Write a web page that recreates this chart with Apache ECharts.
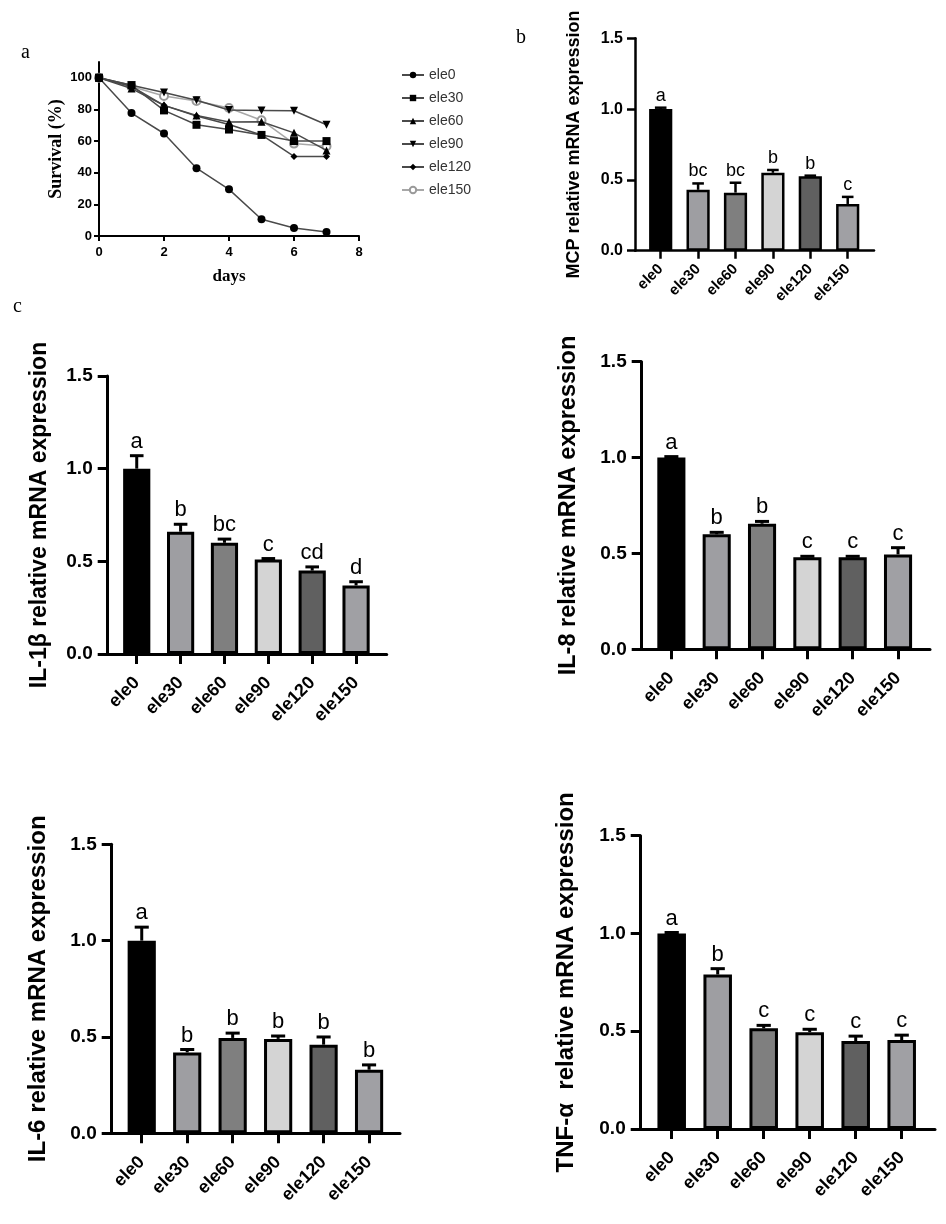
<!DOCTYPE html>
<html><head><meta charset="utf-8">
<script src="https://cdn.jsdelivr.net/npm/echarts@6/dist/echarts.min.js"></script>
<style>html,body{margin:0;padding:0;background:#fff}#c{width:946px;height:1224px}</style>
</head><body><div id="c"></div>
<script>
// ---------- data ----------
const groups = ['ele0', 'ele30', 'ele60', 'ele90', 'ele120', 'ele150'];
const days = [0, 1, 2, 3, 4, 5, 6, 7];
const survEle0   = [100, 77.7, 64.8, 42.9, 29.5, 10.6, 5.1, 2.5];
const survEle30  = [100, 95.3, 79.4, 70.3, 67.3, 63.9, 60.0, 60.0];
const survEle60  = [100, 93.2, 82.6, 76.2, 72.0, 72.2, 65.2, 54.1];
const survEle90  = [100, 95.3, 90.7, 85.8, 79.6, 79.4, 79.2, 70.3];
const survEle120 = [100, 94.5, 82.6, 75.8, 70.5, 63.9, 50.3, 50.3];
const survEle150 = [100, 94.5, 88.5, 85.4, 80.9, 73.2, 58.4, 56.7];
const survTicks = [0, 20, 40, 60, 80, 100];

const mcpMean = [1.0, 0.43, 0.41, 0.55, 0.525, 0.33];
const mcpErr  = [0.01, 0.045, 0.07, 0.02, 0.005, 0.05];
const mcpLetters = ['a', 'bc', 'bc', 'b', 'b', 'c'];

const il1bMean = [1.0, 0.66, 0.60, 0.51, 0.45, 0.37];
const il1bErr  = [0.07, 0.04, 0.02, 0.005, 0.02, 0.02];
const il1bLetters = ['a', 'b', 'bc', 'c', 'cd', 'd'];

const il8Mean = [1.0, 0.60, 0.655, 0.48, 0.48, 0.495];
const il8Err  = [0.005, 0.01, 0.012, 0.005, 0.005, 0.035];
const il8Letters = ['a', 'b', 'b', 'c', 'c', 'c'];

const il6Mean = [1.0, 0.42, 0.495, 0.49, 0.46, 0.33];
const il6Err  = [0.07, 0.015, 0.025, 0.015, 0.04, 0.025];
const il6Letters = ['a', 'b', 'b', 'b', 'b', 'b'];

const tnfMean = [1.0, 0.79, 0.515, 0.495, 0.45, 0.455];
const tnfErr  = [0.005, 0.03, 0.015, 0.015, 0.025, 0.025];
const tnfLetters = ['a', 'b', 'c', 'c', 'c', 'c'];

const exprMax = 1.5;
const exprInterval = 0.5;
const barColors = ['#000000', '#9e9ea2', '#7f7f7f', '#d4d4d4', '#606060', '#a0a0a4'];

// ---------- styling ----------
const SANS = '"Liberation Sans", Arial, sans-serif';
const SERIF = '"Liberation Serif", "Times New Roman", serif';

const option = {
  animation: false,
  backgroundColor: '#fff',
  grid: [], xAxis: [], yAxis: [], series: [],
  graphic: [
    { type: 'text', x: 21, y: 53, style: { text: 'a', font: '20px ' + SERIF, fill: '#000', verticalAlign: 'middle' } },
    { type: 'text', x: 516, y: 38, style: { text: 'b', font: '20px ' + SERIF, fill: '#000', verticalAlign: 'middle' } },
    { type: 'text', x: 13, y: 307, style: { text: 'c', font: '20px ' + SERIF, fill: '#000', verticalAlign: 'middle' } }
  ]
};

// ---------- panel a: survival ----------
option.grid.push({ left: 99, top: 62, width: 260, height: 174 });
option.xAxis.push({
  type: 'value', gridIndex: 0, min: 0, max: 8, interval: 2,
  axisLine: { show: true, lineStyle: { color: '#000', width: 2 } },
  axisTick: { show: true, length: 5, lineStyle: { color: '#000', width: 2 } },
  axisLabel: { fontFamily: SANS, fontWeight: 'bold', fontSize: 13, color: '#000', margin: 10 },
  splitLine: { show: false },
  name: 'days', nameLocation: 'middle', nameGap: 32,
  nameTextStyle: { fontFamily: SERIF, fontWeight: 'bold', fontSize: 17, color: '#000' }
});
option.yAxis.push({
  type: 'value', gridIndex: 0, min: 0, max: 110,
  axisLine: { show: true, lineStyle: { color: '#000', width: 2 } },
  axisTick: { show: true, length: 5, customValues: survTicks, lineStyle: { color: '#000', width: 2 } },
  axisLabel: { customValues: survTicks, fontFamily: SANS, fontWeight: 'bold', fontSize: 13, color: '#000', margin: 7 },
  splitLine: { show: false },
  name: 'Survival (%)', nameLocation: 'middle', nameRotate: 90, nameGap: 34,
  nameTextStyle: { fontFamily: SERIF, fontWeight: 'bold', fontSize: 18, color: '#000' }
});
const survDefs = [
  { name: 'ele0', data: survEle0, symbol: 'circle', size: 8, rot: 0 },
  { name: 'ele30', data: survEle30, symbol: 'rect', size: 8, rot: 0 },
  { name: 'ele60', data: survEle60, symbol: 'triangle', size: 8, rot: 0 },
  { name: 'ele90', data: survEle90, symbol: 'triangle', size: 8, rot: 180 },
  { name: 'ele120', data: survEle120, symbol: 'diamond', size: 7, rot: 0 },
  { name: 'ele150', data: survEle150, symbol: 'emptyCircle', size: 8, rot: 0 }
];
survDefs.forEach(function (s) {
  const gray = s.name === 'ele150';
  option.series.push({
    type: 'line', name: s.name, xAxisIndex: 0, yAxisIndex: 0,
    data: days.map(function (d, i) { return [d, s.data[i]]; }),
    symbol: s.symbol, symbolSize: s.size, symbolRotate: s.rot,
    lineStyle: { color: gray ? '#a8a8a8' : '#4a4a4a', width: 1.5 },
    itemStyle: gray ? { color: '#9a9a9a', borderWidth: 1.5 } : { color: '#000' },
    z: gray ? 2 : 3
  });
});
option.legend = {
  data: groups, orient: 'vertical', left: 396, top: 63,
  itemWidth: 22, itemHeight: 8, itemGap: 9,
  textStyle: { fontFamily: SANS, fontSize: 14, color: '#333' }
};

// ---------- bar panels ----------
function makeRender(letters, fs, lw) {
  return function (params, api) {
    const i = api.value(0), v = api.value(1), e = api.value(2);
    const base = api.coord([i, v]);
    const top = api.coord([i, v + e]);
    const bw = api.size([1, 0])[0] * 0.62;
    const half = bw * 0.25;
    return {
      type: 'group', children: [
        { type: 'line', shape: { x1: base[0], y1: base[1], x2: top[0], y2: top[1] }, style: { stroke: '#000', lineWidth: lw } },
        { type: 'line', shape: { x1: top[0] - half, y1: top[1], x2: top[0] + half, y2: top[1] }, style: { stroke: '#000', lineWidth: lw } },
        { type: 'text', x: top[0], y: top[1] - 3, style: { text: letters[params.dataIndex], align: 'center', verticalAlign: 'bottom', font: fs + 'px ' + SANS, fill: '#000' } }
      ]
    };
  };
}

function addBarPanel(p) {
  const gi = option.grid.length;
  const h = p.bottom - p.top;
  option.grid.push({ left: p.axisX, top: p.top, width: p.axisEnd - p.axisX, height: h });
  option.grid.push({ left: p.barLeft, top: p.top, width: p.barRight - p.barLeft, height: h });
  const xa = option.xAxis.length;
  option.xAxis.push({
    type: 'value', gridIndex: gi, min: 0, max: 1,
    axisLine: { show: true, lineStyle: { color: '#000', width: p.lw } },
    axisTick: { show: false }, axisLabel: { show: false }, splitLine: { show: false }
  });
  option.xAxis.push({
    type: 'category', gridIndex: gi + 1, data: groups,
    axisLine: { show: false },
    axisTick: { show: true, alignWithLabel: true, length: p.tick, lineStyle: { color: '#000', width: p.lw } },
    axisLabel: { rotate: 45, interval: 0, fontFamily: SANS, fontWeight: 'bold', fontSize: p.xfs, color: '#000', margin: p.xmargin }
  });
  const ya = option.yAxis.length;
  option.yAxis.push({
    type: 'value', gridIndex: gi, min: 0, max: exprMax, interval: exprInterval,
    axisLine: { show: true, lineStyle: { color: '#000', width: p.lw } },
    axisTick: { show: true, length: p.tick, lineStyle: { color: '#000', width: p.lw } },
    axisLabel: { formatter: function (v) { return v.toFixed(1); }, fontFamily: SANS, fontWeight: 'bold', fontSize: p.yfs, color: '#000', margin: p.ymargin },
    splitLine: { show: false },
    name: p.title, nameLocation: 'middle', nameRotate: 90, nameGap: p.nameGap,
    nameTextStyle: { fontFamily: SANS, fontWeight: 'bold', fontSize: p.tfs, color: '#000' }
  });
  option.yAxis.push({ type: 'value', gridIndex: gi + 1, min: 0, max: exprMax, show: false });
  option.series.push({
    type: 'bar', xAxisIndex: xa + 1, yAxisIndex: ya + 1, barWidth: '62%',
    data: p.mean.map(function (v, i) { return { value: v, itemStyle: { color: barColors[i] } }; }),
    itemStyle: { borderColor: '#000', borderWidth: p.lw }
  });
  option.series.push({
    type: 'custom', xAxisIndex: xa + 1, yAxisIndex: ya + 1, z: 5,
    data: p.mean.map(function (v, i) { return [i, v, p.err[i]]; }),
    renderItem: makeRender(p.letters, p.lfs, p.lw)
  });
}

addBarPanel({ title: 'MCP relative mRNA expression', mean: mcpMean, err: mcpErr, letters: mcpLetters,
  axisX: 635, axisEnd: 874, top: 38.3, bottom: 250.7, barLeft: 642, barRight: 866.4,
  lw: 2.5, tick: 8, yfs: 16, xfs: 15, tfs: 18, lfs: 18, nameGap: 52, ymargin: 12, xmargin: 16 });
addBarPanel({ title: 'IL-1\u03b2 relative mRNA expression', mean: il1bMean, err: il1bErr, letters: il1bLetters,
  axisX: 107.7, axisEnd: 386.7, top: 376, bottom: 654, barLeft: 114.8, barRight: 378,
  lw: 3, tick: 10, yfs: 19, xfs: 18, tfs: 23, lfs: 22, nameGap: 57, ymargin: 15, xmargin: 26 });
addBarPanel({ title: 'IL-8 relative mRNA expression', mean: il8Mean, err: il8Err, letters: il8Letters,
  axisX: 641.7, axisEnd: 930, top: 361.7, bottom: 649.3, barLeft: 648.7, barRight: 920.7,
  lw: 3, tick: 10, yfs: 19, xfs: 18, tfs: 23.5, lfs: 22, nameGap: 61, ymargin: 15, xmargin: 26 });
addBarPanel({ title: 'IL-6 relative mRNA expression', mean: il6Mean, err: il6Err, letters: il6Letters,
  axisX: 111.7, axisEnd: 400, top: 844.3, bottom: 1133.3, barLeft: 119, barRight: 391.8,
  lw: 3, tick: 10, yfs: 19, xfs: 18, tfs: 24, lfs: 22, nameGap: 61, ymargin: 15, xmargin: 26 });
addBarPanel({ title: 'TNF-\u03b1  relative mRNA expression', mean: tnfMean, err: tnfErr, letters: tnfLetters,
  axisX: 640.7, axisEnd: 935, top: 835.7, bottom: 1129, barLeft: 648.7, barRight: 924.7,
  lw: 3, tick: 10, yfs: 19, xfs: 18, tfs: 24, lfs: 22, nameGap: 62, ymargin: 15, xmargin: 26 });

const chart = echarts.init(document.getElementById('c'), null, { renderer: 'canvas' });
chart.setOption(option);
</script>
</body></html>
